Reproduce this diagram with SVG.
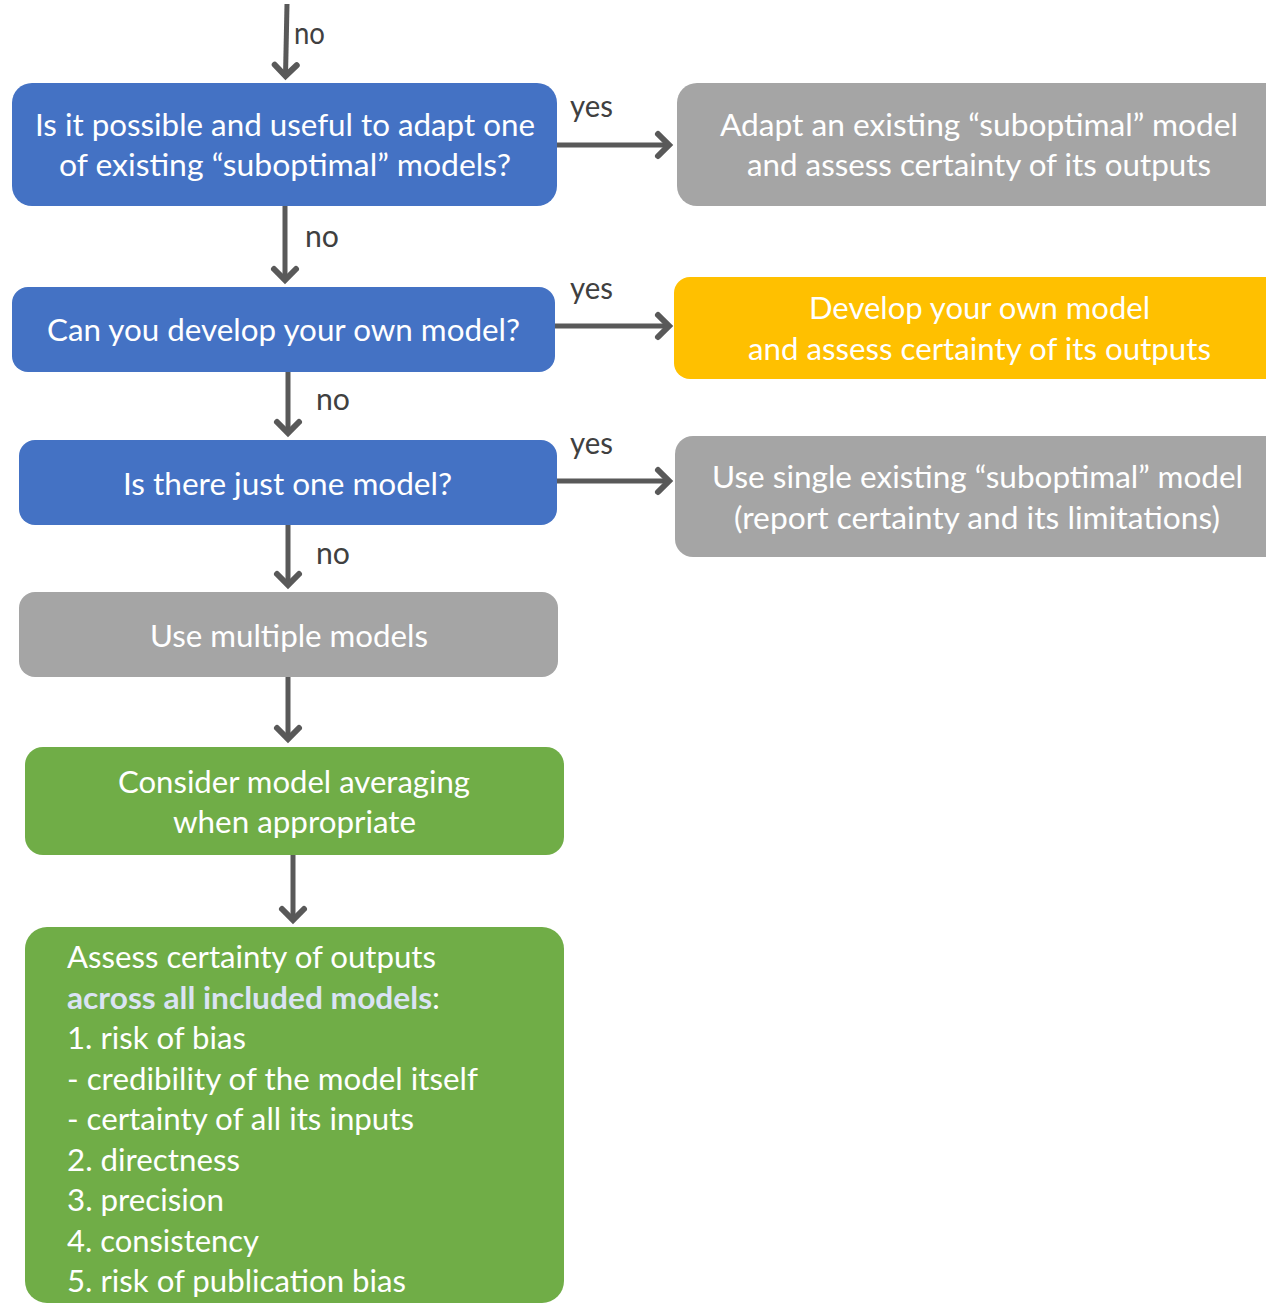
<svg xmlns="http://www.w3.org/2000/svg" width="1266" height="1304" viewBox="0 0 1266 1304">
<style>
.t{font-family:Lato,"Open Sans","Liberation Sans",sans-serif;font-size:30px;fill:#ffffff;}
.lbl{font-family:Lato,"Open Sans","Liberation Sans",sans-serif;font-size:30px;fill:#404040;}
.blue{fill:#4472C4;}
.gray{fill:#A5A5A5;}
.yellow{fill:#FFC000;}
.green{fill:#70AD47;}
.conn{stroke:#595959;stroke-width:5;fill:none;marker-end:url(#arr);}
.b{font-weight:bold;fill:#DAE3F3;}
</style>
<defs>
<marker id="arr" markerUnits="userSpaceOnUse" viewBox="-18 -18 24 36" markerWidth="24" markerHeight="36" refX="0" refY="0" orient="auto">
<path d="M-11,-11 L0,0 L-11,11" fill="none" stroke="#595959" stroke-width="6" stroke-linecap="round" stroke-linejoin="miter"/>
</marker>
</defs>
<rect width="1266" height="1304" fill="#ffffff"/>
<g id="connectors">
<path class="conn" d="M287,4 L285.5,76"/>
<path class="conn" d="M557,145 L669,145"/>
<path class="conn" d="M285,206 L285,280"/>
<path class="conn" d="M555,326 L669,326"/>
<path class="conn" d="M288,372 L288,433"/>
<path class="conn" d="M557,481 L669,481"/>
<path class="conn" d="M288,525 L288,585"/>
<path class="conn" d="M288,677 L288,739"/>
<path class="conn" d="M293,855 L293,920"/>
<text class="lbl" x="294" y="44" textLength="31" lengthAdjust="spacingAndGlyphs">no</text>
<text class="lbl" x="570" y="117" textLength="43" lengthAdjust="spacingAndGlyphs">yes</text>
<text class="lbl" x="305" y="247" textLength="34" lengthAdjust="spacingAndGlyphs">no</text>
<text class="lbl" x="570" y="299" textLength="43" lengthAdjust="spacingAndGlyphs">yes</text>
<text class="lbl" x="316" y="410" textLength="34" lengthAdjust="spacingAndGlyphs">no</text>
<text class="lbl" x="570" y="454" textLength="43" lengthAdjust="spacingAndGlyphs">yes</text>
<text class="lbl" x="316" y="564" textLength="34" lengthAdjust="spacingAndGlyphs">no</text>
</g>
<g id="q1">
<rect class="blue" x="12" y="83" width="545" height="123" rx="20"/>
<text class="t" x="35" y="136" textLength="500" lengthAdjust="spacingAndGlyphs">Is it possible and useful to adapt one</text>
<text class="t" x="59" y="176" textLength="452" lengthAdjust="spacingAndGlyphs">of existing “suboptimal” models?</text>
</g>
<g id="r1">
<rect class="gray" x="677" y="83" width="620" height="123" rx="20"/>
<text class="t" x="720" y="136" textLength="518" lengthAdjust="spacingAndGlyphs">Adapt an existing “suboptimal” model</text>
<text class="t" x="747" y="176" textLength="464" lengthAdjust="spacingAndGlyphs">and assess certainty of its outputs</text>
</g>
<g id="q2">
<rect class="blue" x="12" y="287" width="543" height="85" rx="16"/>
<text class="t" x="47" y="341" textLength="473" lengthAdjust="spacingAndGlyphs">Can you develop your own model?</text>
</g>
<g id="r2">
<rect class="yellow" x="674" y="277" width="620" height="102" rx="16"/>
<text class="t" x="809" y="319" textLength="341" lengthAdjust="spacingAndGlyphs">Develop your own model</text>
<text class="t" x="748" y="360" textLength="463" lengthAdjust="spacingAndGlyphs">and assess certainty of its outputs</text>
</g>
<g id="q3">
<rect class="blue" x="19" y="440" width="538" height="85" rx="16"/>
<text class="t" x="123" y="495" textLength="329" lengthAdjust="spacingAndGlyphs">Is there just one model?</text>
</g>
<g id="r3">
<rect class="gray" x="675" y="436" width="620" height="121" rx="18"/>
<text class="t" x="712" y="488" textLength="531" lengthAdjust="spacingAndGlyphs">Use single existing “suboptimal” model</text>
<text class="t" x="734" y="529" textLength="486" lengthAdjust="spacingAndGlyphs">(report certainty and its limitations)</text>
</g>
<g id="multi">
<rect class="gray" x="19" y="592" width="539" height="85" rx="16"/>
<text class="t" x="150" y="647" textLength="278" lengthAdjust="spacingAndGlyphs">Use multiple models</text>
</g>
<g id="avg">
<rect class="green" x="25" y="747" width="539" height="108" rx="18"/>
<text class="t" x="118" y="793" textLength="352" lengthAdjust="spacingAndGlyphs">Consider model averaging</text>
<text class="t" x="173" y="833" textLength="243" lengthAdjust="spacingAndGlyphs">when appropriate</text>
</g>
<g id="assess">
<rect class="green" x="25" y="927" width="539" height="376" rx="22"/>
<text class="t" x="67" y="968" textLength="369" lengthAdjust="spacingAndGlyphs">Assess certainty of outputs</text>
<text class="t" x="67" y="1009" textLength="373" lengthAdjust="spacingAndGlyphs"><tspan class="b">across all included models</tspan>:</text>
<text class="t" x="67" y="1049" textLength="179" lengthAdjust="spacingAndGlyphs">1. risk of bias</text>
<text class="t" x="67" y="1090" textLength="411" lengthAdjust="spacingAndGlyphs">- credibility of the model itself</text>
<text class="t" x="67" y="1130" textLength="347" lengthAdjust="spacingAndGlyphs">- certainty of all its inputs</text>
<text class="t" x="67" y="1171" textLength="173" lengthAdjust="spacingAndGlyphs">2. directness</text>
<text class="t" x="67" y="1211" textLength="157" lengthAdjust="spacingAndGlyphs">3. precision</text>
<text class="t" x="67" y="1252" textLength="192" lengthAdjust="spacingAndGlyphs">4. consistency</text>
<text class="t" x="67" y="1292" textLength="339" lengthAdjust="spacingAndGlyphs">5. risk of publication bias</text>
</g>
</svg>
